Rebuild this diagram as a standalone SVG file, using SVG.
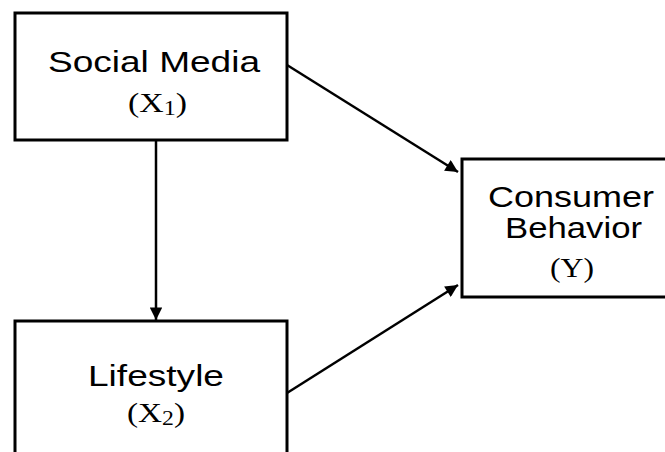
<svg xmlns="http://www.w3.org/2000/svg" width="665" height="452" viewBox="0 0 665 452">
<style>
.box{fill:#fff;stroke:#000;stroke-width:3}
.lbl{font-family:"Liberation Sans",Arial,sans-serif;font-size:30px;fill:#000}
.var{font-family:"Liberation Serif","DejaVu Serif",serif;font-size:28px;fill:#000}
.sub{font-size:20px}
.edge{stroke:#000;stroke-width:2.5;fill:none;marker-end:url(#ah)}
</style>
<defs>
<marker id="ah" viewBox="0 0 10 10" refX="10" refY="5" markerWidth="6" markerHeight="5" markerUnits="strokeWidth" orient="auto">
<path d="M0,0 L10,5 L0,10 z" fill="#000"/>
</marker>
</defs>
<rect width="665" height="452" fill="#fff"/>
<g id="connectors">
<line class="edge" x1="156" y1="140" x2="156" y2="320"/>
<line class="edge" x1="287" y1="65" x2="458" y2="172"/>
<line class="edge" x1="287" y1="393" x2="458" y2="285"/>
</g>
<g id="social-media">
<rect class="box" x="15" y="13" width="272" height="127"/>
<text class="lbl" x="48" y="72" textLength="212" lengthAdjust="spacingAndGlyphs">Social Media</text>
<text class="var" x="128" y="112" textLength="59" lengthAdjust="spacingAndGlyphs">(X<tspan class="sub" dy="3">1</tspan><tspan dy="-3">)</tspan></text>
</g>
<g id="lifestyle">
<rect class="box" x="15" y="321" width="272" height="140"/>
<text class="lbl" x="88" y="386" textLength="136" lengthAdjust="spacingAndGlyphs">Lifestyle</text>
<text class="var" x="127" y="422" textLength="58" lengthAdjust="spacingAndGlyphs">(X<tspan class="sub" dy="3">2</tspan><tspan dy="-3">)</tspan></text>
</g>
<g id="consumer-behavior">
<rect class="box" x="462" y="159" width="210" height="138"/>
<text class="lbl" x="488" y="207" textLength="166" lengthAdjust="spacingAndGlyphs">Consumer</text>
<text class="lbl" x="505" y="238" textLength="137" lengthAdjust="spacingAndGlyphs">Behavior</text>
<text class="var" x="550" y="277" textLength="44" lengthAdjust="spacingAndGlyphs">(Y)</text>
</g>
</svg>
